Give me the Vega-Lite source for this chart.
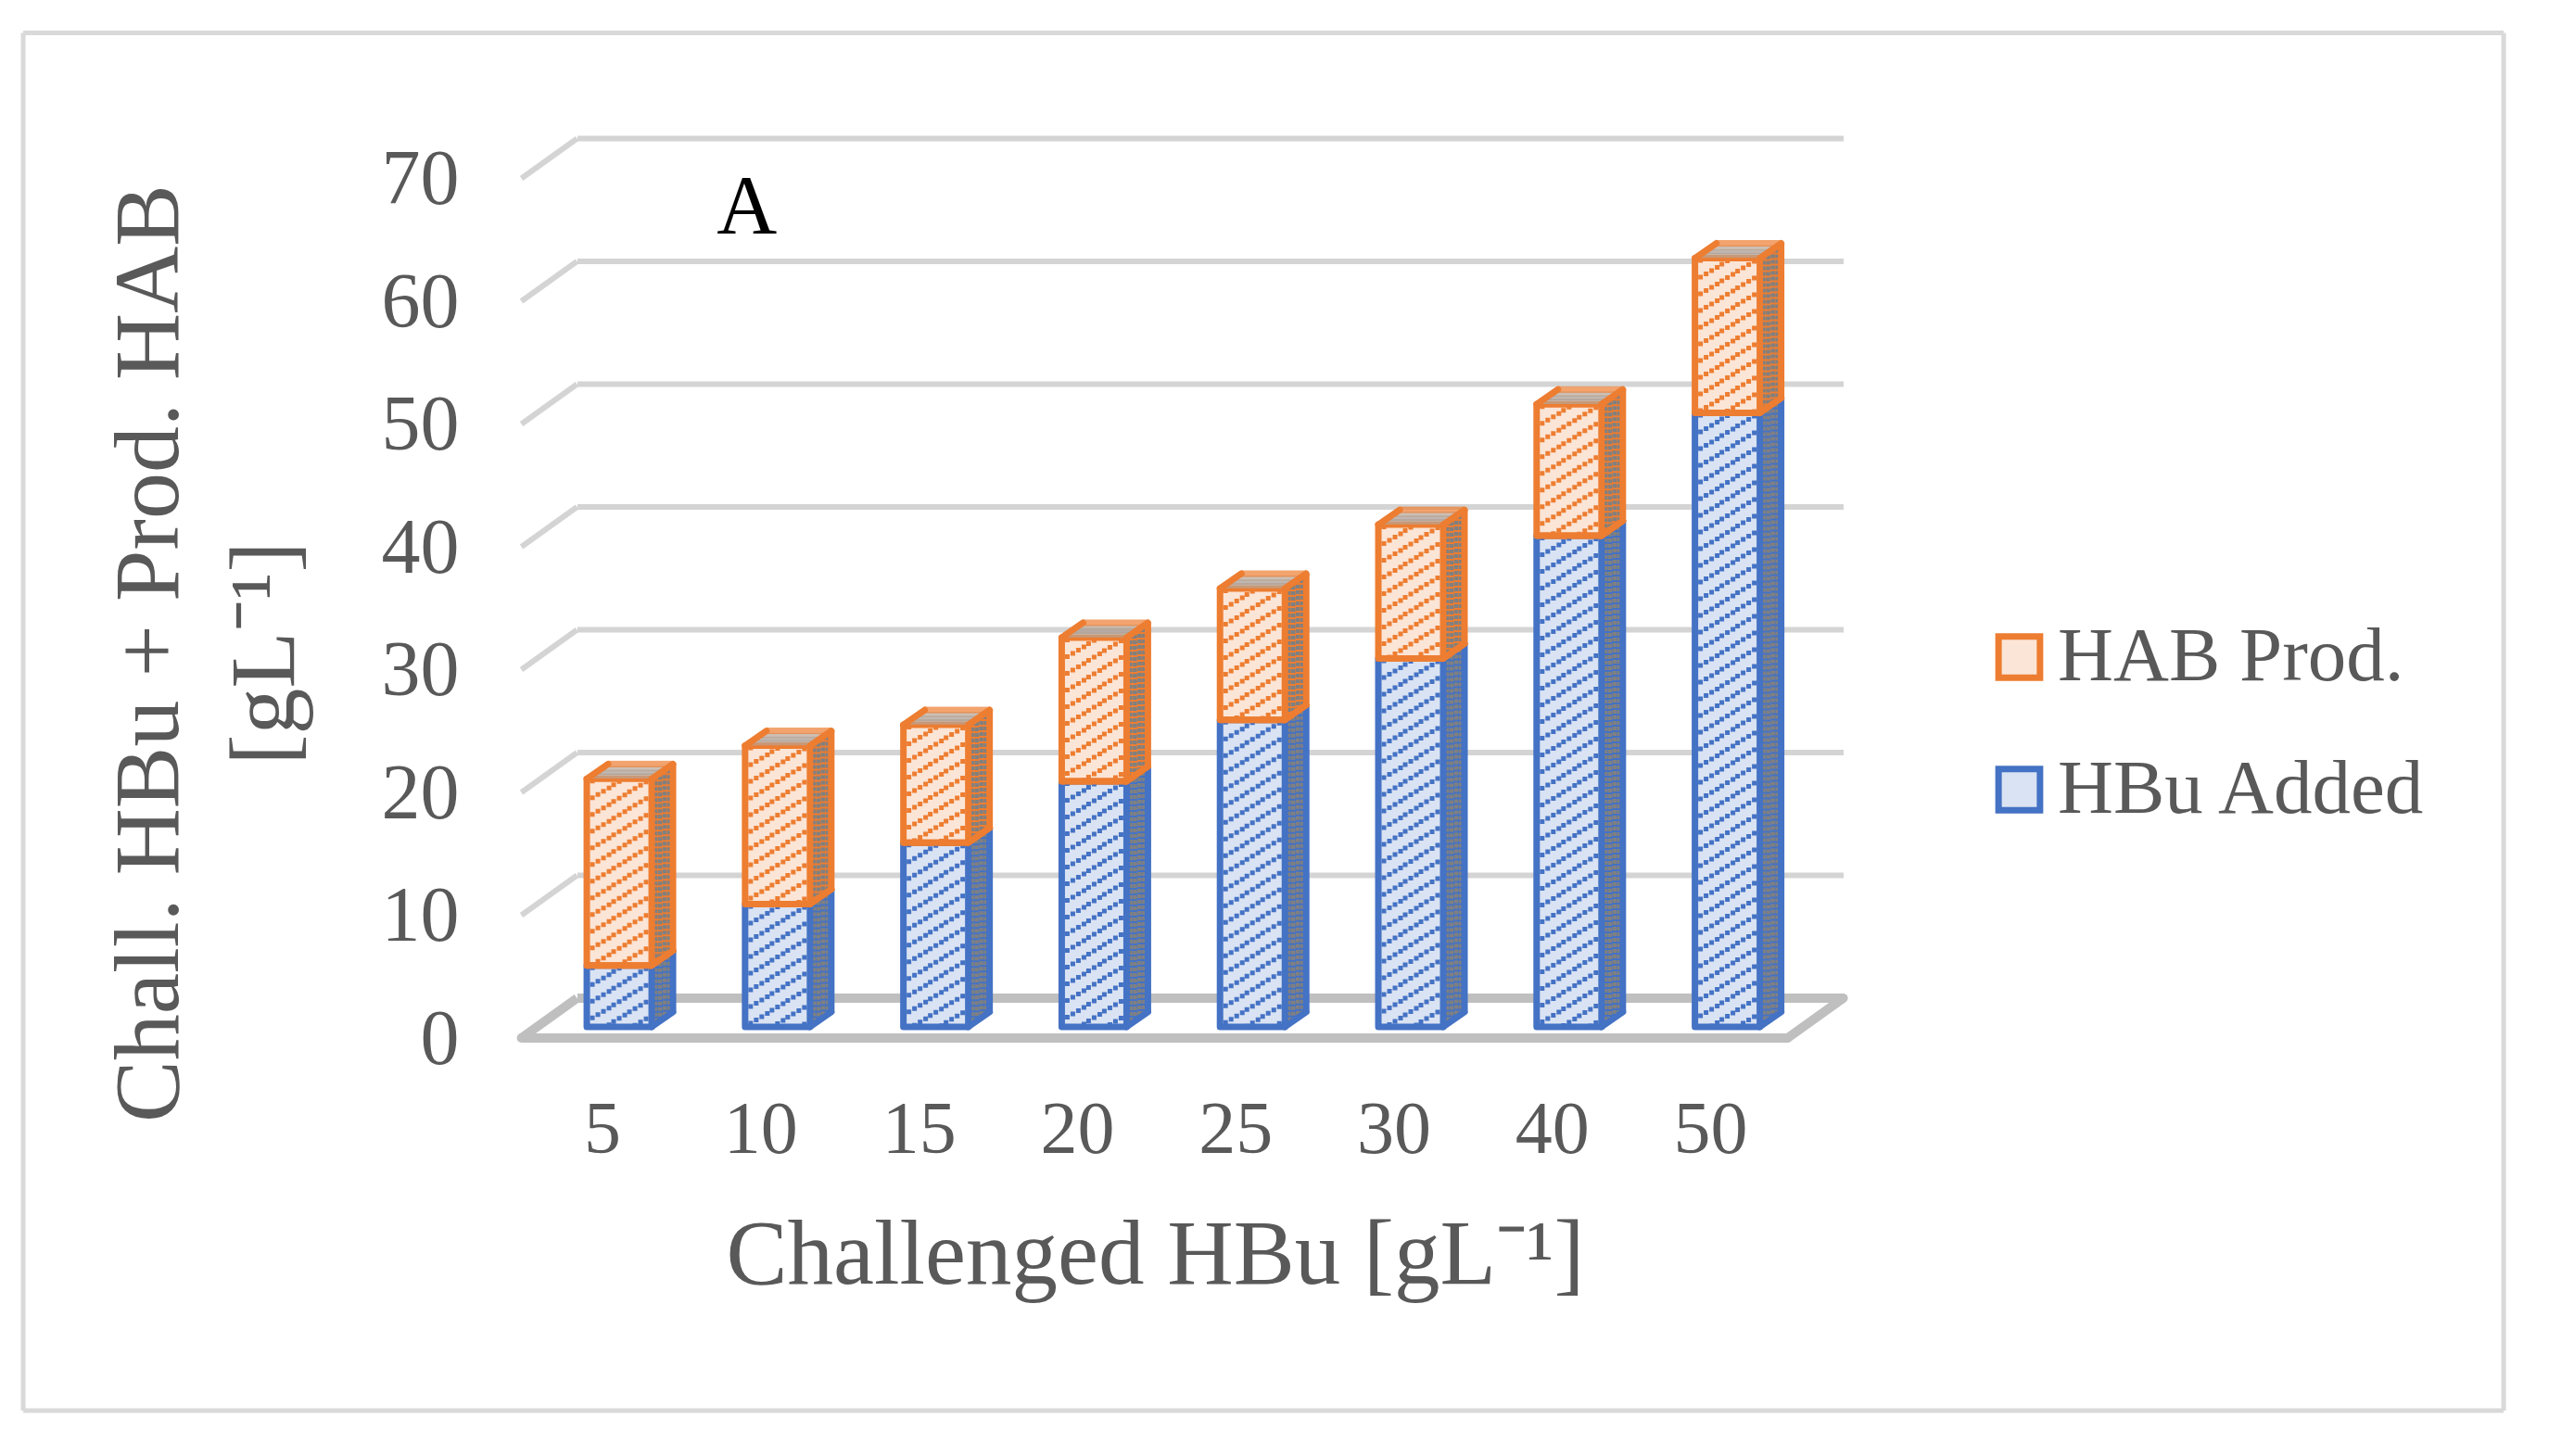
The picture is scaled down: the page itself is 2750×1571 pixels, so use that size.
{"$schema":"https://vega.github.io/schema/vega-lite/v6.json","width":1366,"height":927.5,"autosize":"none","padding":{"left":623,"top":180.5,"right":761,"bottom":463},"background":"white","view":{"stroke":null},"config":{"font":"Liberation Serif"},
"layer":[
{"data":{"values":[{"g":10},{"g":20},{"g":30},{"g":40},{"g":50},{"g":60},{"g":70}]},"layer":[
{"mark":{"type":"rule","stroke":"#d4d4d4","strokeWidth":6,"yOffset":-31},"encoding":{"y":{"field":"g","type":"quantitative","scale":{"domain":[0,70],"nice":false},"axis":{"title":["Chall. HBu + Prod. HAB","[gL⁻¹]"],"titleFont":"Liberation Serif","titleFontSize":100,"titleFontWeight":"normal","titleColor":"#595959","titleX":-432,"titleY":524,"titleBaseline":"alphabetic","titleLineHeight":125,"labelFont":"Liberation Serif","labelFontSize":84,"labelColor":"#595959","labelPadding":128,"labelOffset":14,"values":[0,10,20,30,40,50,60,70],"domain":false,"ticks":false,"grid":false}}}},
{"mark":{"type":"rule","stroke":"#d4d4d4","strokeWidth":6,"xOffset":-45.5,"x2Offset":-105.5,"yOffset":-31,"y2Offset":12},"encoding":{"x":{"datum":5,"type":"ordinal"},"x2":{"datum":5},"y":{"field":"g","type":"quantitative"},"y2":{"field":"g"}}}
]},
{"data":{"values":[{"g":0}]},"layer":[
{"mark":{"type":"rule","stroke":"#bfbfbf","strokeWidth":10,"yOffset":-31},"encoding":{"y":{"field":"g","type":"quantitative"}}},
{"mark":{"type":"rule","stroke":"#bfbfbf","strokeWidth":10,"xOffset":-45.5,"x2Offset":-105.5,"yOffset":-31,"y2Offset":12},"encoding":{"x":{"datum":5,"type":"ordinal"},"x2":{"datum":5},"y":{"field":"g","type":"quantitative"},"y2":{"field":"g"}}},
{"mark":{"type":"rule","stroke":"#bfbfbf","strokeWidth":10,"strokeCap":"round","xOffset":-105.5,"x2Offset":65,"yOffset":12,"y2Offset":12},"encoding":{"x":{"datum":5,"type":"ordinal"},"x2":{"datum":50},"y":{"field":"g","type":"quantitative"},"y2":{"field":"g"}}},
{"mark":{"type":"rule","stroke":"#bfbfbf","strokeWidth":10,"strokeCap":"round","xOffset":65,"x2Offset":125,"yOffset":12,"y2Offset":-31},"encoding":{"x":{"datum":50,"type":"ordinal"},"x2":{"datum":50},"y":{"field":"g","type":"quantitative"},"y2":{"field":"g"}}}
]},
{"data":{"values":[
{"hbu":5,"series":"HBu Added","value":5},{"hbu":10,"series":"HBu Added","value":10},{"hbu":15,"series":"HBu Added","value":15},{"hbu":20,"series":"HBu Added","value":20},{"hbu":25,"series":"HBu Added","value":25},{"hbu":30,"series":"HBu Added","value":30},{"hbu":40,"series":"HBu Added","value":40},{"hbu":50,"series":"HBu Added","value":50},
{"hbu":5,"series":"HAB Prod.","value":15.2},{"hbu":10,"series":"HAB Prod.","value":12.9},{"hbu":15,"series":"HAB Prod.","value":9.6},{"hbu":20,"series":"HAB Prod.","value":11.7},{"hbu":25,"series":"HAB Prod.","value":10.7},{"hbu":30,"series":"HAB Prod.","value":10.9},{"hbu":40,"series":"HAB Prod.","value":10.7},{"hbu":50,"series":"HAB Prod.","value":12.6}
]},
"transform":[{"stack":"value","groupby":["hbu"],"sort":[{"field":"series","order":"descending"}],"as":["y0","y1"]}],
"encoding":{
"x":{"field":"hbu","type":"ordinal","scale":{"domain":[5,10,15,20,25,30,40,50],"paddingInner":0.59,"paddingOuter":0.294,"align":0.1},"axis":{"title":"Challenged HBu [gL⁻¹]","titleFont":"Liberation Serif","titleFontSize":99,"titleFontWeight":"normal","titleColor":"#595959","titleX":623,"titleY":276,"titleBaseline":"alphabetic","labelFont":"Liberation Serif","labelFontSize":80,"labelColor":"#595959","labelAngle":0,"labelAlign":"center","labelPadding":111,"labelOffset":-18,"domain":false,"ticks":false,"grid":false}},
"stroke":{"field":"series","type":"nominal","scale":{"domain":["HAB Prod.","HBu Added"],"range":["#ed7d31","#4472c4"]},"legend":{"orient":"none","legendX":1514,"legendY":487,"title":null,"padding":0,"symbolType":"square","symbolSize":2000,"symbolStrokeWidth":7,"labelFont":"Liberation Serif","labelFontSize":83,"labelColor":"#595959","labelLimit":800,"labelOffset":0,"rowPadding":59}}},
"layer":[
{"encoding":{"y":{"field":"y1","type":"quantitative"},"y2":{"field":"y0"}},
"layer":[
{"mark":{"type":"rule","strokeWidth":6.5,"xOffset":38,"yOffset":-2,"y2Offset":-2}},
{"mark":{"type":"rule","strokeWidth":6.5,"xOffset":44,"yOffset":-6,"y2Offset":-6}},
{"mark":{"type":"rule","strokeWidth":6.5,"xOffset":50,"yOffset":-10.5,"y2Offset":-10.5}},
{"mark":{"type":"rule","strokeWidth":6.5,"xOffset":55,"yOffset":-14,"y2Offset":-14}},
{"mark":{"type":"rule","strokeWidth":4.5,"strokeDash":[4,2],"xOffset":39,"yOffset":-3,"y2Offset":-3},"encoding":{"stroke":{"value":"#808080"}}},
{"mark":{"type":"rule","strokeWidth":4.5,"strokeDash":[4,2],"strokeDashOffset":3,"xOffset":44,"yOffset":-6,"y2Offset":-6},"encoding":{"stroke":{"value":"#808080"}}},
{"mark":{"type":"rule","strokeWidth":4.5,"strokeDash":[4,2],"xOffset":49,"yOffset":-10,"y2Offset":-10},"encoding":{"stroke":{"value":"#808080"}}},
{"mark":{"type":"rule","strokeWidth":4.5,"strokeDash":[4,2],"strokeDashOffset":3,"xOffset":54,"yOffset":-13,"y2Offset":-13},"encoding":{"stroke":{"value":"#808080"}}},
{"mark":{"type":"rule","strokeWidth":7,"xOffset":58,"yOffset":-16,"y2Offset":-16}},
{"mark":{"type":"bar","size":70,"strokeWidth":7,"strokeJoin":"round"},"encoding":{"fill":{"field":"series","type":"nominal","scale":{"domain":["HAB Prod.","HBu Added"],"range":["#fbe5d6","#dae3f3"]},"legend":{"orient":"none","legendX":1514,"legendY":487,"title":null,"padding":0,"symbolType":"square","symbolSize":2000,"symbolStrokeWidth":7,"labelFont":"Liberation Serif","labelFontSize":83,"labelColor":"#595959","labelLimit":800,"labelOffset":0,"rowPadding":59}}}},
{"mark":{"type":"rule","strokeWidth":5,"strokeDash":[5,13],"xOffset":-29}},
{"mark":{"type":"rule","strokeWidth":5,"strokeDash":[5,13],"strokeDashOffset":3.5,"xOffset":-23}},
{"mark":{"type":"rule","strokeWidth":5,"strokeDash":[5,13],"strokeDashOffset":7,"xOffset":-17}},
{"mark":{"type":"rule","strokeWidth":5,"strokeDash":[5,13],"strokeDashOffset":10.5,"xOffset":-11}},
{"mark":{"type":"rule","strokeWidth":5,"strokeDash":[5,13],"strokeDashOffset":14,"xOffset":-6}},
{"mark":{"type":"rule","strokeWidth":5,"strokeDash":[5,13],"strokeDashOffset":17.5,"xOffset":0}},
{"mark":{"type":"rule","strokeWidth":5,"strokeDash":[5,13],"strokeDashOffset":21,"xOffset":6}},
{"mark":{"type":"rule","strokeWidth":5,"strokeDash":[5,13],"strokeDashOffset":24.5,"xOffset":11}},
{"mark":{"type":"rule","strokeWidth":5,"strokeDash":[5,13],"strokeDashOffset":28,"xOffset":17}},
{"mark":{"type":"rule","strokeWidth":5,"strokeDash":[5,13],"strokeDashOffset":31.5,"xOffset":23}},
{"mark":{"type":"rule","strokeWidth":5,"strokeDash":[5,13],"strokeDashOffset":35,"xOffset":29}}
]},
{"mark":{"type":"rule","strokeWidth":7,"strokeCap":"round","xOffset":35,"x2Offset":58,"y2Offset":-16},"encoding":{"x2":{"field":"hbu"},"y":{"field":"y0","type":"quantitative"},"y2":{"field":"y0"}}},
{"transform":[{"filter":"datum.series === 'HAB Prod.'"}],"encoding":{"y":{"field":"y1","type":"quantitative"}},"layer":[
{"mark":{"type":"tick","size":70,"thickness":4.5,"xOffset":4,"yOffset":-3},"encoding":{"stroke":{"value":"#b8a596"},"color":{"value":"#b8a596"}}},
{"mark":{"type":"tick","size":70,"thickness":4.5,"xOffset":10,"yOffset":-7},"encoding":{"stroke":{"value":"#a89a90"},"color":{"value":"#a89a90"}}},
{"mark":{"type":"tick","size":70,"thickness":4.5,"xOffset":16,"yOffset":-11},"encoding":{"stroke":{"value":"#b8a596"},"color":{"value":"#b8a596"}}},
{"mark":{"type":"tick","size":70,"thickness":6,"xOffset":23,"yOffset":-16},"encoding":{"stroke":{"value":"#ed7d31"},"color":{"value":"#ed7d31"}}},
{"mark":{"type":"rule","strokeWidth":7,"strokeCap":"round","xOffset":-35,"x2Offset":-12,"y2Offset":-16},"encoding":{"x2":{"field":"hbu"},"y2":{"field":"y1"}}},
{"mark":{"type":"rule","strokeWidth":7,"strokeCap":"round","xOffset":35,"x2Offset":58,"y2Offset":-16},"encoding":{"x2":{"field":"hbu"},"y2":{"field":"y1"}}},
{"mark":{"type":"rule","strokeWidth":7,"strokeCap":"round","xOffset":35,"x2Offset":58,"y2Offset":-16},"encoding":{"x2":{"field":"hbu"},"y":{"field":"y0","type":"quantitative"},"y2":{"field":"y0"}}},
{"mark":{"type":"rule","strokeWidth":7,"xOffset":-35,"x2Offset":35,"yOffset":0,"y2Offset":0},"encoding":{"x2":{"field":"hbu"},"y":{"field":"y0","type":"quantitative"},"y2":{"field":"y0"}}}
]}
]},
{"data":{"values":[{"label":"A"}]},"mark":{"type":"text","font":"Liberation Serif","fontSize":90,"color":"black","dx":-33,"baseline":"alphabetic","align":"center"},"encoding":{"x":{"datum":10,"type":"ordinal"},"y":{"datum":64.6,"type":"quantitative"},"text":{"field":"label"}}},
{"data":{"values":[{"side":"frame"}]},"layer":[
{"mark":{"type":"rule","stroke":"#d9d9d9","strokeWidth":5,"xOffset":-643,"x2Offset":2033,"yOffset":-145,"y2Offset":-145},"encoding":{"x":{"datum":5,"type":"ordinal"},"x2":{"datum":5},"y":{"datum":70,"type":"quantitative"},"y2":{"datum":70}}},
{"mark":{"type":"rule","stroke":"#d9d9d9","strokeWidth":5,"xOffset":-643,"x2Offset":2033,"yOffset":414,"y2Offset":414},"encoding":{"x":{"datum":5,"type":"ordinal"},"x2":{"datum":5},"y":{"datum":0,"type":"quantitative"},"y2":{"datum":0}}},
{"mark":{"type":"rule","stroke":"#d9d9d9","strokeWidth":5,"xOffset":-643,"x2Offset":-643,"yOffset":-145,"y2Offset":414},"encoding":{"x":{"datum":5,"type":"ordinal"},"x2":{"datum":5},"y":{"datum":70,"type":"quantitative"},"y2":{"datum":0}}},
{"mark":{"type":"rule","stroke":"#d9d9d9","strokeWidth":5,"xOffset":2033,"x2Offset":2033,"yOffset":-145,"y2Offset":414},"encoding":{"x":{"datum":5,"type":"ordinal"},"x2":{"datum":5},"y":{"datum":70,"type":"quantitative"},"y2":{"datum":0}}}
]}
]}
